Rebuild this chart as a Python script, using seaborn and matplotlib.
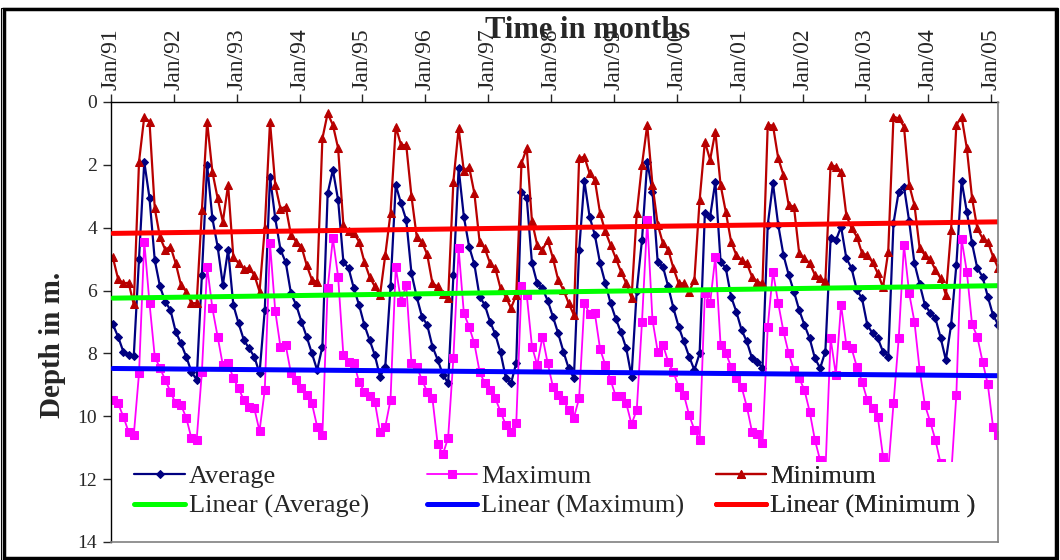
import numpy as np
import pandas as pd
import matplotlib
matplotlib.use("Agg")
import matplotlib.pyplot as plt
from matplotlib.patches import Rectangle
import seaborn as sns

# Monthly groundwater depth (m below ground), Jan 1991 - Feb 2005
average = [
    7.07, 7.47, 7.94, 8.05, 8.07, 5.0, 1.9, 3.06, 5.03, 5.87, 6.35, 6.62,
    7.31, 7.68, 8.1, 8.58, 8.84, 5.5, 2.0, 3.7, 4.6, 5.82, 4.7, 6.46,
    7.04, 7.57, 7.84, 8.1, 8.63, 6.62, 2.38, 3.7, 4.7, 5.1, 6.09, 6.46,
    6.99, 7.47, 8.0, 8.53, 7.78, 2.91, 2.16, 3.12, 5.08, 5.29, 5.93, 6.46,
    7.09, 7.57, 8.05, 8.74, 8.42, 5.87, 2.64, 3.22, 3.75, 5.45, 6.2, 6.83,
    7.09, 7.78, 8.2, 8.68, 8.95, 5.5, 2.11, 3.65, 4.6, 5.16, 6.19, 6.46,
    6.99, 7.39, 7.97, 8.77, 8.95, 8.3, 2.85, 3.06, 5.13, 5.77, 5.93, 6.32,
    6.83, 7.36, 7.94, 8.47, 8.79, 4.71, 2.51, 3.65, 4.23, 5.13, 5.77, 6.4,
    6.9, 7.33, 7.84, 8.74, 6.0, 4.39, 1.9, 2.85, 5.1, 5.24, 5.87, 6.56,
    7.15, 7.62, 8.1, 8.53, 8.0, 3.54, 3.65, 2.53, 5.08, 5.29, 6.19, 6.67,
    7.25, 7.62, 8.15, 8.26, 8.47, 3.91, 2.59, 3.91, 4.87, 5.5, 6.03, 6.62,
    7.09, 7.52, 8.15, 8.47, 7.94, 4.34, 4.4, 3.97, 4.97, 5.29, 5.98, 6.25,
    7.09, 7.36, 7.52, 7.94, 8.1, 3.86, 2.85, 2.69, 3.8, 5.13, 5.8, 6.46,
    6.7, 6.88, 7.5, 8.21, 7.09, 5.19, 2.51, 3.49, 4.5, 5.29, 5.56, 6.19,
    6.78, 7.09,
]
maximum = [
    9.48, 9.59, 10.01, 10.49, 10.59, 8.63, 4.44, 6.4, 8.1, 8.47, 8.84, 9.22,
    9.59, 9.64, 10.04, 10.7, 10.75, 8.58, 5.24, 6.56, 7.47, 8.37, 8.31, 8.79,
    9.11, 9.48, 9.69, 9.75, 10.47, 9.16, 4.5, 6.65, 7.8, 7.74, 8.63, 8.84,
    9.11, 9.32, 9.59, 10.33, 10.59, 5.93, 4.34, 5.56, 8.05, 8.26, 8.31, 8.9,
    9.22, 9.37, 9.53, 10.51, 10.33, 9.48, 5.24, 6.35, 5.82, 8.31, 8.42, 8.84,
    9.22, 9.43, 10.89, 11.21, 10.68, 8.15, 4.66, 6.72, 7.15, 7.68, 8.58, 8.95,
    9.16, 9.43, 9.85, 10.28, 10.49, 10.22, 5.84, 6.14, 7.78, 8.37, 7.47, 8.31,
    9.06, 9.32, 9.48, 9.8, 10.04, 9.43, 6.4, 6.74, 6.72, 7.86, 8.37, 8.84,
    9.37, 9.37, 9.59, 10.25, 9.8, 6.99, 3.75, 6.93, 7.94, 7.73, 8.26, 8.6,
    9.06, 9.32, 9.96, 10.43, 10.75, 6.09, 6.4, 4.92, 7.73, 7.99, 8.42, 8.79,
    9.06, 9.69, 10.49, 10.57, 10.86, 7.15, 5.4, 6.4, 7.3, 8.0, 8.53, 8.79,
    9.16, 9.85, 10.75, 11.4, 11.8, 7.52, 8.68, 6.46, 7.73, 7.84, 8.42, 8.9,
    9.48, 9.75, 10.01, 11.28, 11.7, 9.59, 7.52, 4.55, 6.09, 6.99, 8.53, 9.64,
    10.17, 10.75, 11.5, 12.0, 11.9, 9.32, 4.36, 5.4, 7.07, 7.47, 8.26, 8.98,
    10.33, 10.59,
]
minimum = [
    4.94, 5.63, 5.77, 5.75, 6.44, 1.9, 0.47, 0.63, 3.38, 4.3, 4.7, 4.6,
    5.13, 5.82, 6.03, 6.4, 6.4, 3.44, 0.63, 2.22, 3.06, 3.81, 2.64, 4.94,
    5.13, 5.3, 5.29, 5.5, 6.03, 4.02, 0.63, 2.64, 3.4, 3.33, 4.23, 4.44,
    4.6, 5.19, 5.66, 5.72, 1.16, 0.36, 0.73, 1.47, 3.91, 4.12, 4.18, 4.44,
    5.08, 5.56, 5.87, 6.14, 4.87, 3.54, 0.78, 1.37, 1.37, 3.0, 4.28, 4.45,
    4.85, 5.77, 5.87, 6.1, 6.25, 2.53, 0.84, 2.2, 2.06, 2.9, 4.44, 4.66,
    5.13, 5.29, 5.93, 6.19, 6.56, 6.14, 1.95, 1.47, 3.8, 4.55, 4.7, 4.39,
    4.97, 5.66, 5.98, 6.4, 6.78, 1.79, 1.74, 2.27, 2.48, 3.54, 4.12, 4.55,
    4.97, 5.4, 5.77, 6.25, 3.54, 2.0, 0.73, 2.64, 3.9, 4.5, 4.7, 5.29,
    5.77, 5.77, 6.03, 5.66, 3.12, 1.26, 1.84, 0.94, 2.64, 3.5, 4.44, 4.87,
    5.03, 5.13, 5.56, 5.72, 5.77, 0.73, 0.75, 1.79, 2.32, 3.28, 3.33, 4.81,
    4.97, 5.13, 5.5, 5.6, 5.7, 2.0, 2.06, 2.22, 3.6, 4.02, 4.28, 4.81,
    4.87, 5.1, 5.45, 5.9, 4.76, 0.47, 0.52, 0.78, 2.64, 3.28, 4.66, 4.87,
    5.0, 5.34, 5.61, 6.14, 4.07, 0.73, 0.47, 1.47, 3.06, 4.02, 4.34, 4.44,
    4.92, 5.29,
]
tick_labels = ["Jan/91", "Jan/92", "Jan/93", "Jan/94", "Jan/95", "Jan/96",
               "Jan/97", "Jan/98", "Jan/99", "Jan/00", "Jan/01", "Jan/02",
               "Jan/03", "Jan/04", "Jan/05"]
depth_ticks = [0, 2, 4, 6, 8, 10, 12, 14]

sns.set_style("white")
plt.rcParams["font.family"] = ["Liberation Serif", "DejaVu Serif"]

# months since Jan 1991, readings taken mid-month
month = np.arange(len(average)) + 0.35
df = pd.DataFrame({"month": month, "Average": average,
                   "Maximum": maximum, "Minimum": minimum})

fig = plt.figure(figsize=(10.6, 5.6), dpi=100)
ax = fig.add_axes([111 / 1060, 1 - 542 / 560, 887 / 1060, 440 / 560])

series_style = {
    "Average": dict(color="#000080", marker="D", markersize=3.8, lw=1.6),
    "Maximum": dict(color="#FF00FF", marker="s", markersize=5.8, lw=1.3),
    "Minimum": dict(color="#B80000", marker="^", markersize=6.3, lw=1.6),
}
for name, st in series_style.items():
    sns.lineplot(data=df, x="month", y=name, ax=ax, label=name,
                 color=st["color"], marker=st["marker"],
                 markersize=st["markersize"], lw=st["lw"],
                 markeredgecolor=st["color"], markerfacecolor=st["color"])

trend_colors = {"Average": "#00FF00", "Maximum": "#0000FF", "Minimum": "#FF0000"}
trend_labels = {"Average": "Linear (Average)", "Maximum": "Linear (Maximum)",
                "Minimum": "Linear (Minimum )"}
for name, c in trend_colors.items():
    sns.regplot(data=df, x="month", y=name, ax=ax, scatter=False, ci=None,
                truncate=True, color=c, label=trend_labels[name],
                line_kws=dict(lw=3.6, zorder=5))

ax.set_xlim(0, 169.3)
ax.set_ylim(14, 0)
ax.set_xlabel("")
ax.set_ylabel("")

ax.xaxis.tick_top()
ax.set_xticks(np.arange(len(tick_labels)) * 12)
ax.set_xticklabels(tick_labels, rotation=90, fontsize=17)
ax.set_yticks(depth_ticks)
ax.set_yticklabels([str(t) for t in depth_ticks], fontsize=14)
ax.tick_params(axis="x", which="major", direction="out", length=6, width=1,
               pad=3, top=True, bottom=False)
ax.tick_params(axis="y", which="major", direction="out", length=6, width=1,
               pad=4, left=True)
for side in ["top", "left"]:
    ax.spines[side].set_color("black")
    ax.spines[side].set_linewidth(1.0)
for side in ["right", "bottom"]:
    ax.spines[side].set_color("#808080")
    ax.spines[side].set_linewidth(1.2)
    ax.spines[side].set_zorder(11)

# white band behind the legend entries
ax.add_patch(Rectangle((0.02, 0.004), 0.975, 0.178, transform=ax.transAxes,
                       facecolor="white", edgecolor="none", zorder=9))

handles, labels = ax.get_legend_handles_labels()
lookup = dict(zip(labels, handles))
columns = [("Average", "Linear (Average)"),
           ("Maximum", "Linear (Maximum)"),
           ("Minimum", "Linear (Minimum )")]
column_left = [0.022, 0.352, 0.678]
for (top_entry, bottom_entry), x0 in zip(columns, column_left):
    leg = ax.legend([lookup[top_entry], lookup[bottom_entry]],
                    [top_entry, bottom_entry], ncol=1, loc="upper left",
                    bbox_to_anchor=(x0, 0.184), frameon=False,
                    fontsize=19, handlelength=1.9, handletextpad=0.15,
                    labelspacing=0.22, borderpad=0.15, borderaxespad=0)
    leg.set_zorder(10)
    ax.add_artist(leg)

fig.text(588 / 1060, 1 - 31 / 560, "Time in months", ha="center", va="center",
         fontsize=22, fontweight="bold")
fig.text(53 / 1060, 1 - 345 / 560, "Depth in m.", ha="center", va="center",
         rotation=90, fontsize=21, fontweight="bold")

# chart-area border
fig.patches.append(Rectangle((4 / 1060, 2 / 560), 1052 / 1060, 549 / 560,
                             transform=fig.transFigure, fill=False,
                             edgecolor="black", lw=2.5))
fig.patches.append(Rectangle((1 / 1060, 0.5 / 560), 1057 / 1060, 552 / 560,
                             transform=fig.transFigure, fill=False,
                             edgecolor="black", lw=0.8))

fig.savefig("out.png", dpi=100)
